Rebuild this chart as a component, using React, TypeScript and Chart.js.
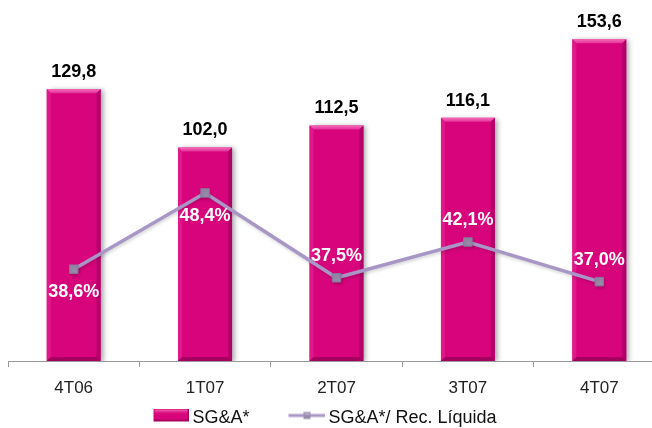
import React, { useEffect, useRef } from 'react';
import { Chart, registerables } from 'chart.js';

Chart.register(...registerables);

const categories = ['4T06', '1T07', '2T07', '3T07', '4T07'];
const sgaValues = [129.8, 102.0, 112.5, 116.1, 153.6];
const ratioValues = [38.6, 48.4, 37.5, 42.1, 37.0];
const ratioLabelSide = ['below', 'below', 'above', 'above', 'above'];
const seriesNames = ['SG&A*', 'SG&A*/ Rec. Líquida'];

const FONT = '"Liberation Sans", Arial, Helvetica, sans-serif';
const BAR = '#D8047C';
const LINE = '#A897C6';
const MARK = '#978AAA';

const fmt = (v: number, d: number) => v.toFixed(d).replace('.', ',');

function makeBarSwatch() {
  const c = document.createElement('canvas');
  c.width = 72;
  c.height = 19;
  const g = c.getContext('2d')!;
  const ox = 36;
  g.fillStyle = BAR;
  g.fillRect(ox, 0, 36, 13);
  const gr = g.createLinearGradient(0, 0, 0, 5);
  gr.addColorStop(0, '#F277B9');
  gr.addColorStop(1, BAR);
  g.fillStyle = gr;
  g.fillRect(ox + 1, 1, 34, 4);
  g.fillStyle = '#A6005E';
  g.fillRect(ox, 11, 36, 2);
  g.fillRect(ox + 34, 0, 2, 13);
  return c;
}

function makeLineSwatch() {
  const c = document.createElement('canvas');
  c.width = 72;
  c.height = 15;
  const g = c.getContext('2d')!;
  const ox = 35;
  g.strokeStyle = LINE;
  g.lineWidth = 3;
  g.beginPath();
  g.moveTo(ox, 5);
  g.lineTo(ox + 37, 5);
  g.stroke();
  g.fillStyle = MARK;
  g.fillRect(ox + 15, 1.5, 7, 7);
  g.fillStyle = '#B9AECB';
  g.fillRect(ox + 16, 2.5, 5, 2);
  return c;
}

const effectsPlugin = {
  id: 'effects',
  beforeDatasetDraw(chart: any, args: any) {
    const ctx = chart.ctx;
    ctx.save();
    if (args.index === 0) {
      ctx.shadowColor = 'rgba(0,0,0,0.35)';
      ctx.shadowBlur = 5;
      ctx.shadowOffsetX = 3;
      ctx.shadowOffsetY = 1;
    } else {
      ctx.shadowColor = 'rgba(0,0,0,0.15)';
      ctx.shadowBlur = 3;
      ctx.shadowOffsetX = 1;
      ctx.shadowOffsetY = 2;
    }
  },
  afterDatasetDraw(chart: any, args: any) {
    const ctx = chart.ctx;
    ctx.restore();
    if (args.index !== 0) return;
    const meta = chart.getDatasetMeta(0);
    const b = 4;
    meta.data.forEach((el: any) => {
      const { x, y, base, width } = el.getProps(['x', 'y', 'base', 'width'], true);
      const l = x - width / 2;
      const r = x + width / 2;
      const t = y;
      const bt = base;
      ctx.save();
      const gr = ctx.createLinearGradient(0, t, 0, t + b);
      gr.addColorStop(0, '#F46DB8');
      gr.addColorStop(1, '#E4309A');
      ctx.fillStyle = gr;
      ctx.beginPath();
      ctx.moveTo(l, t);
      ctx.lineTo(r, t);
      ctx.lineTo(r - b, t + b);
      ctx.lineTo(l + b, t + b);
      ctx.closePath();
      ctx.fill();
      ctx.fillStyle = '#E0188A';
      ctx.beginPath();
      ctx.moveTo(l, t);
      ctx.lineTo(l + b, t + b);
      ctx.lineTo(l + b, bt - b);
      ctx.lineTo(l, bt);
      ctx.closePath();
      ctx.fill();
      ctx.fillStyle = '#B3006A';
      ctx.beginPath();
      ctx.moveTo(r, t);
      ctx.lineTo(r - b, t + b);
      ctx.lineTo(r - b, bt - b);
      ctx.lineTo(r, bt);
      ctx.closePath();
      ctx.fill();
      ctx.fillStyle = '#A5005F';
      ctx.beginPath();
      ctx.moveTo(l, bt);
      ctx.lineTo(l + b, bt - b);
      ctx.lineTo(r - b, bt - b);
      ctx.lineTo(r, bt);
      ctx.closePath();
      ctx.fill();
      ctx.restore();
    });
  },
  afterDatasetsDraw(chart: any) {
    const ctx = chart.ctx;
    ctx.save();
    ctx.textAlign = 'center';
    ctx.textBaseline = 'middle';
    ctx.font = 'bold 18px ' + FONT;
    chart.getDatasetMeta(0).data.forEach((el: any, i: number) => {
      const { x, y } = el.getProps(['x', 'y'], true);
      ctx.fillStyle = '#000';
      ctx.fillText(fmt(sgaValues[i], 1), x, y - 17);
    });
    chart.getDatasetMeta(1).data.forEach((el: any, i: number) => {
      const { x, y } = el.getProps(['x', 'y'], true);
      ctx.fillStyle = '#fff';
      const dy = ratioLabelSide[i] === 'above' ? -22 : 23;
      ctx.fillText(fmt(ratioValues[i], 1) + '%', x, y + dy);
    });
    ctx.restore();
  },
};

export default function App() {
  const ref = useRef<HTMLCanvasElement | null>(null);

  useEffect(() => {
    if (!ref.current) return;
    Chart.defaults.font.family = FONT;
    const swatches = [makeBarSwatch(), makeLineSwatch()];
    const chart = new Chart(ref.current, {
      type: 'bar',
      data: {
        labels: categories,
        datasets: [
          {
            type: 'bar',
            label: seriesNames[0],
            data: sgaValues,
            backgroundColor: BAR,
            borderWidth: 0,
            barPercentage: 0.41,
            categoryPercentage: 1.0,
            yAxisID: 'y',
            order: 1,
          },
          {
            type: 'line',
            label: seriesNames[1],
            data: ratioValues,
            borderColor: LINE,
            borderWidth: 3.5,
            backgroundColor: LINE,
            pointStyle: 'rect',
            pointRadius: 6,
            pointBackgroundColor: MARK,
            pointBorderColor: '#85779A',
            pointBorderWidth: 1,
            tension: 0,
            yAxisID: 'y2',
            order: 0,
          } as any,
        ],
      },
      options: {
        responsive: false,
        animation: false,
        devicePixelRatio: 1,
        layout: { autoPadding: false, padding: { top: 5, left: 0, right: 0, bottom: 0 } },
        plugins: {
          tooltip: { enabled: false },
          legend: {
            position: 'bottom',
            labels: {
              font: { size: 18, family: FONT },
              color: '#111',
              usePointStyle: true,
              pointStyleWidth: 60,
              padding: 10,
              generateLabels: (ch: any) => {
                const items = Chart.defaults.plugins.legend.labels.generateLabels(ch);
                items.sort((a: any, b: any) => a.datasetIndex - b.datasetIndex);
                return items.map((it: any) => ({ ...it, pointStyle: swatches[it.datasetIndex] }));
              },
            },
          },
        },
        scales: {
          x: {
            offset: true,
            grid: {
              display: true,
              drawOnChartArea: false,
              drawTicks: true,
              tickLength: 6,
              color: '#999',
              offset: true,
            },
            border: { display: true, color: '#999', width: 1 },
            ticks: { color: '#222', font: { size: 17 }, padding: 11 },
            afterFit: (s: any) => {
              s.height = 38;
              s.paddingLeft = 0;
              s.paddingRight = 0;
            },
          },
          y: {
            position: 'left',
            min: 0,
            max: 170,
            ticks: { display: false },
            grid: { display: false },
            border: { display: false },
            afterFit: (s: any) => {
              s.width = 53;
              s.paddingTop = 0;
              s.paddingBottom = 0;
            },
          },
          y2: {
            position: 'right',
            min: 26.8,
            max: 72.56,
            display: false,
          },
        },
      },
      plugins: [effectsPlugin],
    } as any);
    return () => chart.destroy();
  }, []);

  return (
    <div style={{ position: 'fixed', left: -45, top: 0, width: 710, height: 437 }}>
      <canvas ref={ref} width={710} height={437} style={{ display: 'block' }} />
    </div>
  );
}
